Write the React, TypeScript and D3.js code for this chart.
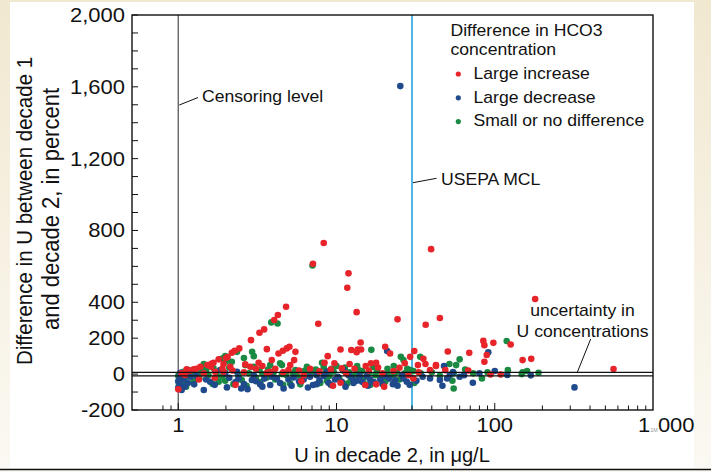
import * as d3 from "d3";

// x = U in decade 2 (µg/L), y = difference in percent
const redPoints: [number, number][] = [
  [8.3, 730], [7.1, 614], [11.9, 561], [11.7, 481], [13.4, 345], [4.8, 375],
  [39.6, 696], [45, 312], [24.3, 305], [36.6, 275], [7.67, 280], [4.26, 329],
  [4.04, 301], [3.49, 249], [3.26, 230], [2.88, 189], [3.63, 139], [4.3, 115],
  [4.58, 130], [4.85, 143], [5.04, 152], [2.43, 143], [2.27, 130], [2.18, 119],
  [1.8, 82], [1.93, 56], [1.67, 63], [1.53, 50], [1.38, 41], [1.25, 26],
  [1.13, 26], [1.0, -85], [3.22, 63], [2.85, 41], [3.9, 78], [5.1, 50],
  [2.13, 41], [1.45, 4], [3.63, 7], [5.4, 78], [8.4, 63], [9.7, 60],
  [12.1, 56], [10.8, 32], [15.3, 45], [17.8, 63], [18.3, 37], [22.9, 17],
  [6.2, -6], [10.6, -48], [17.8, -57], [10.6, 137], [12.4, 134], [13.4, 122],
  [14.3, 137], [14.2, 176], [13.6, 137], [20.3, 152], [21.8, 115], [31, 128],
  [29.2, 96], [28.5, -6], [30.6, -24], [35.4, 85], [36.5, 56], [32.7, 50],
  [42.5, 50], [50.5, 126], [69, 119], [84.7, 185], [86, 161], [98, 174],
  [89, 106], [86, 69], [126, 165], [150, 78], [170, 85], [180, 418],
  [48.7, 22], [39, 22], [68, 20], [109, -2], [94, -2], [563, 28], [42.5, 45],
  [1.05, 5], [1.18, 18], [1.3, 30], [1.62, 58], [2.0, 90], [2.05, 95],
  [5.5, 124], [1.71, 13], [15.2, -61], [1.61, 41], [2.65, 54], [1.93, 13],
  [3.8, 13], [4.97, 22],
  [1.1, -5], [1.35, -30], [1.7, -20], [2.2, 20], [2.6, 10], [3.1, 30],
  [4.1, 30], [4.6, 10], [5.8, 20], [6.8, 30], [7.8, 15], [9.2, 25],
  [11.5, 5], [13, 30], [16, 20], [19.5, 5], [25, 35], [27, 60], [33, 10],
  [2.3, -60], [6, -40], [9.5, -65], [20, -70], [3.4, 45], [1.9, 30],
  [16.5, 60], [8.8, 100],
];

const bluePoints: [number, number][] = [
  [25.3, 1604], [319, -74], [1.03, 7], [1.05, -89], [1.03, -61], [1.08, -30],
  [1.26, -57], [1.45, -89], [1.59, -43], [2.03, -74], [2.5, -80], [2.74, -84],
  [2.4, -24], [2.92, -33], [3.29, -56], [3.81, -61], [4.63, -80], [4.2, -24],
  [4.97, -30], [1.84, 22], [1.98, 4], [2.35, 13], [1.19, -15], [20.9, 128],
  [8.7, 13], [11.1, 22], [6.8, -15], [7.1, -61], [7.5, -56], [9.8, -30],
  [8.9, -48], [10.8, -43], [13.4, -37], [14.5, -43], [16.3, -30], [18.9, -30],
  [22.7, -56], [24.3, -65], [27.8, -43], [15.5, -11], [11.9, -6], [7.5, -6],
  [5.35, -19], [26.5, -24], [91, 121], [47.8, 45], [54.5, 11], [64, -6],
  [100, 17], [169, -7], [72.7, -48], [45, -33], [46.7, -65], [39, -24],
  [32, -37], [50, -24], [52, -5], [1.0, -40], [1.02, -20], [1.1, -70],
  [3.0, -5], [3.5, -25], [5.8, -40], [12.5, -20], [20, -10], [35, -15],
  [60, -15], [120, -5], [80, 5],
  [1.15, -50], [1.3, -10], [1.5, -30], [1.7, -60], [2.1, -20], [2.3, -45],
  [2.6, -55], [3.1, -40], [3.4, -70], [3.9, -15], [4.4, -50], [5.2, -65],
  [6.2, -30], [6.6, -75], [7.8, -35], [8.3, -10], [9.2, -60], [10.2, -15],
  [11.4, -70], [12.8, -50], [14, -10], [15.8, -65], [17.2, -45], [19.5, -55],
  [21.5, -25], [23.5, -35], [26, -5], [29, -60], [1.0, -75], [1.04, -5],
];

const greenPoints: [number, number][] = [
  [3.87, 288], [4.24, 282], [7.05, 605], [2.93, 124], [2.35, 124], [1.98, 100],
  [1.89, 87], [2.18, 69], [1.45, 56], [1.16, 22], [1.08, 13], [1.02, -33],
  [1.13, -15], [1.36, -24], [1.8, -43], [1.76, -11], [2.23, -56], [2.52, -33],
  [3.1, -19], [3.63, -19], [4.52, 0], [4.0, 7], [2.65, 50], [3.81, 50],
  [4.52, 50], [1.67, 32], [1.55, -6], [3.26, 22], [1.98, -37], [16.6, 135],
  [25.5, 96], [26.5, 78], [8.1, 63], [8.3, 41], [11.3, 37], [14.5, 17],
  [13.8, 22], [6.3, 18], [5.5, 22], [5.1, -52], [5.9, -57], [8.7, -37],
  [11.7, -52], [15.1, -57], [16.3, -61], [20.3, -43], [22.9, -6], [17.6, -6],
  [13.1, -6], [9.6, 13], [5.6, -6], [29.2, 22], [30.6, 17], [33.8, 96],
  [60, 82], [57, 50], [51.7, 56], [55, 4], [73, 4], [121, 22], [160, 17],
  [83, -24], [55, -80], [54, -37], [30, 17], [34, 4], [119, 184], [189, 7],
  [1.0, -10], [1.01, -55], [1.2, 5], [1.4, 10], [2.8, 5], [3.4, 0], [4.8, -5],
  [6.5, 40], [7, 10], [9, -10], [10, 45], [12, 10], [18, 15], [21, 30],
  [24, 10], [27, 5], [40, 10], [45, -10], [65, 25], [90, 10], [150, 10],
  [3.0, 100], [4.4, 60], [148, 0],
  [1.02, 0], [1.06, -45], [1.12, -70], [1.25, -40], [1.5, 20], [1.65, -55],
  [1.9, -15], [2.1, 35], [2.4, -5], [2.7, -65], [3.0, 40], [3.3, -45],
  [3.7, 25], [4.1, -30], [4.6, -60], [5.3, 5], [6.0, -20], [6.6, -5],
  [7.4, 25], [7.9, -50], [8.6, 15], [9.3, 30], [10.4, -25], [11, 20],
  [12.3, -35], [13.5, 45], [14.8, -25], [16, 5], [17, 40], [19, -20],
  [21, 0], [23, 45], [25, -30], [28, 30], [31, -50], [1.45, 35], [2.0, 70],
  [2.6, 90],
];

const legendLabels = ["Large increase", "Large decrease", "Small or no difference"];
const legendColors = ["#e8242b", "#1f4a8c", "#1a8a42"];

const yTickValues = [2000, 1600, 1200, 800, 400, 200, 0, -200];
const xTickValues = [1, 10, 100];
const censoringLevel = 1;
const mclLevel = 30;
const uncertaintyBand = [-10, 10];

const FONT = "'Liberation Sans', Arial, Helvetica, sans-serif";
const SX = 1.1;

const x = d3.scaleLog().domain([0.51, 1000]).range([132, 653]);
const y = d3.scaleLinear().domain([-200, 2000]).range([410, 15]);
const fmt = (v: number) => d3.format(",")(v).replace("\u2212", "-");

function Label({ px, py, size, anchor = "start", sx = SX, children }: any) {
  return (
    <text
      transform={`translate(${px},${py}) scale(${sx},1)`}
      fontSize={size}
      textAnchor={anchor}
      fill="#111"
    >
      {children}
    </text>
  );
}

export default function App() {
  const [x0, x1] = x.range();
  const [y0, y1] = y.range();
  const minorX = x.ticks().filter((t) => t >= 0.75 && t < 1000);
  const minorY = d3.range(-200, 2001, 100);
  const groups: [[number, number][], string][] = [
    [greenPoints, legendColors[2]],
    [bluePoints, legendColors[1]],
    [redPoints, legendColors[0]],
  ];

  return (
    <svg
      width={711}
      height={472}
      style={{ position: "absolute", left: 0, top: 0 }}
      fontFamily={FONT}
    >
      <defs>
        <linearGradient id="bg" x1="0" y1="0" x2="0" y2="1">
          <stop offset="0" stopColor="#f1e8d0" />
          <stop offset="1" stopColor="#fbf9f3" />
        </linearGradient>
      </defs>
      <rect width={711} height={472} fill="url(#bg)" />
      <rect x={10} y={2} width={684} height={466} fill="#fff" />
      <line x1={0} x2={711} y1={469.5} y2={469.5} stroke="#111" strokeWidth={1.5} />

      {/* reference lines */}
      <line x1={x(censoringLevel)} x2={x(censoringLevel)} y1={y1} y2={y0} stroke="#666" strokeWidth={1.4} />
      <line x1={x(mclLevel)} x2={x(mclLevel)} y1={y1} y2={y0} stroke="#4db6e2" strokeWidth={2} />

      {/* points */}
      {groups.map(([pts, color], gi) => (
        <g key={gi} fill={color}>
          {pts.map(([vx, vy], i) => (
            <circle key={i} cx={x(vx)} cy={y(vy)} r={3.3} />
          ))}
        </g>
      ))}

      {/* uncertainty band */}
      {uncertaintyBand.map((v) => (
        <line key={v} x1={x0} x2={x1} y1={y(v)} y2={y(v)} stroke="#111" strokeWidth={1.2} />
      ))}

      {/* frame */}
      <rect x={x0} y={y1} width={x1 - x0} height={y0 - y1} fill="none" stroke="#111" strokeWidth={1.4} />

      {/* y ticks */}
      {minorY.map((v) => (
        <line key={v} x1={x0} x2={x0 + 6} y1={y(v)} y2={y(v)} stroke="#111" strokeWidth={1} />
      ))}
      {yTickValues.map((v) => (
        <Label key={v} px={125} py={y(v) + 7} size={20} anchor="end">
          {fmt(v)}
        </Label>
      ))}

      {/* x ticks */}
      {minorX.map((v) => {
        const major = xTickValues.includes(v);
        return (
          <line key={v} x1={x(v)} x2={x(v)} y1={y0} y2={y0 - (major ? 7 : 4.5)} stroke="#111" strokeWidth={1} />
        );
      })}
      {xTickValues.map((v) => (
        <Label key={v} px={x(v)} py={432} size={20} anchor="middle">
          {fmt(v)}
        </Label>
      ))}
      <Label px={638} py={432} size={20}>
        1
        <tspan fontSize={5} fill="#999">1M</tspan>
        000
      </Label>

      {/* axis titles */}
      <Label px={392} py={462} size={20.5} anchor="middle" sx={0.98}>
        U in decade 2, in μg/L
      </Label>
      <text
        transform={`translate(32,211) scale(${SX},1) rotate(-90)`}
        fontSize={20.5}
        textAnchor="middle"
        fill="#111"
      >
        Difference in U between decade 1
      </text>
      <text
        transform={`translate(59,209) scale(${SX},1) rotate(-90)`}
        fontSize={22}
        textAnchor="middle"
        fill="#111"
      >
        and decade 2, in percent
      </text>

      {/* annotations */}
      <line x1={x(censoringLevel) + 1} y1={105} x2={198} y2={97.5} stroke="#111" strokeWidth={1} />
      <Label px={202} py={102} size={16}>Censoring level</Label>
      <line x1={x(mclLevel) + 1} y1={182.7} x2={436.5} y2={178.3} stroke="#111" strokeWidth={1} />
      <Label px={441} py={184.5} size={16}>USEPA MCL</Label>
      <line x1={577.3} y1={y(uncertaintyBand[1])} x2={590.7} y2={339} stroke="#111" strokeWidth={1} />
      <Label px={582.5} py={316} size={16} anchor="middle">uncertainty in</Label>
      <Label px={582.5} py={337} size={16} anchor="middle">U concentrations</Label>

      {/* legend */}
      <Label px={450.5} py={36} size={16}>Difference in HCO3</Label>
      <Label px={450.5} py={55} size={16}>concentration</Label>
      {legendLabels.map((l, i) => (
        <g key={l}>
          <circle cx={458.3} cy={74 + i * 23.8} r={2.6} fill={legendColors[i]} />
          <Label px={473.5} py={79 + i * 23.6} size={16}>{l}</Label>
        </g>
      ))}
    </svg>
  );
}
